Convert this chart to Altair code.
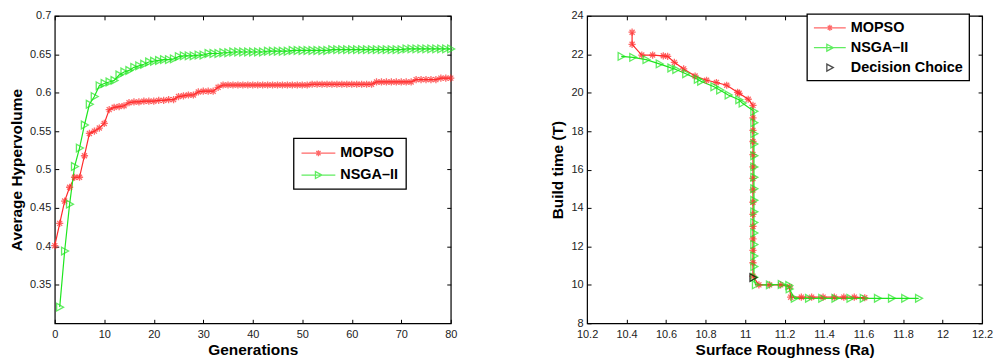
import altair as alt
import pandas as pd

FONT = "Liberation Sans"

# ---------------- left panel data ----------------
gen_mopso = list(range(0, 81))
hv_mopso = [0.401, 0.430, 0.459, 0.477, 0.490, 0.490, 0.518, 0.547, 0.550, 0.554,
            0.560, 0.578, 0.581, 0.582, 0.583, 0.587, 0.588, 0.588, 0.589, 0.589,
            0.589, 0.590, 0.590, 0.591, 0.591, 0.595, 0.596, 0.597, 0.597, 0.601,
            0.602, 0.602, 0.602, 0.607, 0.610, 0.610, 0.610, 0.610, 0.610, 0.610,
            0.610, 0.610, 0.610, 0.610, 0.610, 0.610, 0.610, 0.610, 0.610, 0.610,
            0.610, 0.610, 0.611, 0.611, 0.611, 0.611, 0.611, 0.611, 0.611, 0.611,
            0.611, 0.611, 0.611, 0.611, 0.611, 0.614, 0.614, 0.614, 0.614, 0.614,
            0.614, 0.614, 0.614, 0.617, 0.617, 0.617, 0.617, 0.617, 0.619, 0.619,
            0.619]
gen_nsga = list(range(1, 81))
hv_nsga = [0.321, 0.394, 0.455, 0.504, 0.528, 0.558, 0.585, 0.595, 0.609, 0.612,
           0.614, 0.616, 0.623, 0.627, 0.629, 0.633, 0.635, 0.637, 0.640, 0.641,
           0.642, 0.643, 0.643, 0.644, 0.647, 0.648, 0.648, 0.648, 0.649, 0.649,
           0.651, 0.651, 0.651, 0.652, 0.652, 0.653, 0.653, 0.653, 0.653, 0.653,
           0.653, 0.653, 0.654, 0.654, 0.654, 0.654, 0.654, 0.655, 0.655, 0.655,
           0.655, 0.655, 0.655, 0.655, 0.655, 0.656, 0.656, 0.656, 0.656, 0.656,
           0.656, 0.656, 0.656, 0.656, 0.656, 0.656, 0.656, 0.656, 0.656, 0.656,
           0.657, 0.657, 0.657, 0.657, 0.657, 0.657, 0.657, 0.657, 0.657, 0.657]

# ---------------- right panel data ----------------
ra_mopso = [10.428, 10.428, 10.477, 10.532, 10.586, 10.608, 10.642, 10.689, 10.747,
            10.805, 10.855, 10.907, 10.962, 10.970, 11.016, 11.040,
            11.040, 11.040, 11.040, 11.040, 11.040, 11.040, 11.040, 11.040, 11.040,
            11.040, 11.040, 11.040, 11.040, 11.040,
            11.070, 11.124, 11.180, 11.225, 11.231, 11.285, 11.337, 11.395, 11.452,
            11.500, 11.553, 11.606]
bt_mopso = [23.15, 22.52, 21.96, 21.96, 21.92, 21.89, 21.58, 21.24, 20.87,
            20.65, 20.53, 20.39, 20.02, 19.97, 19.66, 19.34,
            18.69, 18.04, 17.46, 16.78, 16.14, 15.54, 14.94, 14.30, 13.67,
            13.04, 12.39, 11.80, 11.15, 10.45,
            10.00, 10.00, 10.00, 9.90, 9.36, 9.36, 9.36, 9.36, 9.36,
            9.36, 9.36, 9.33]
ra_nsga = [10.373, 10.432, 10.499, 10.566, 10.625, 10.650, 10.700, 10.759, 10.776,
           10.843, 10.872, 10.915, 10.969, 10.986, 11.045,
           11.045, 11.045, 11.045, 11.045, 11.045, 11.045, 11.045, 11.045, 11.045,
           11.045, 11.045, 11.045, 11.045, 11.045, 11.045,
           11.053, 11.124, 11.184, 11.222, 11.224, 11.250, 11.322, 11.389, 11.456,
           11.532, 11.599, 11.671, 11.742, 11.809, 11.879]
bt_nsga = [21.89, 21.84, 21.72, 21.50, 21.29, 21.21, 20.99, 20.70, 20.60,
           20.31, 20.14, 19.88, 19.63, 19.46, 19.03,
           18.44, 17.87, 17.33, 16.72, 16.14, 15.60, 15.00, 14.40, 13.80,
           13.24, 12.70, 12.10, 11.50, 10.95, 10.40,
           10.00, 10.00, 10.02, 9.97, 9.79, 9.30, 9.30, 9.30, 9.30,
           9.30, 9.30, 9.30, 9.30, 9.30, 9.30]
ra_choice = [11.04]
bt_choice = [10.38]

NAME_M = "MOPSO"
NAME_N = "NSGA\u2013II"
NAME_D = "Decision Choice"
RED = "#ff2a2a"
GREEN = "#1fe61f"
BLACK = "#000000"

x_ticks_left = [0, 10, 20, 30, 40, 50, 60, 70, 80]
y_ticks_left = [0.35, 0.4, 0.45, 0.5, 0.55, 0.6, 0.65, 0.7]
x_ticks_right = [10.2, 10.4, 10.6, 10.8, 11.0, 11.2, 11.4, 11.6, 11.8, 12.0, 12.2]
y_ticks_right = [8, 10, 12, 14, 16, 18, 20, 22, 24]

STAR = "M-1,0L1,0M0,-1L0,1M-0.7,-0.7L0.7,0.7M-0.7,0.7L0.7,-0.7"
TRI = "M-0.8,-1L1,0L-0.8,1Z"
# legend symbols: a line sample with the marker at its middle (size 196 -> 7 px per unit)
LEG_STAR_L = "M-1,0L3.857,0M1.429,-0.43L1.429,0.43M1.125,-0.3L1.733,0.3M1.125,0.3L1.733,-0.3"
LEG_TRI_L = "M-1,0L3.857,0M1.0,-0.5L1.93,0L1.0,0.5Z"
LEG_STAR_R = "M-1,0L3.571,0M1.286,-0.43L1.286,0.43M0.982,-0.3L1.59,0.3M0.982,0.3L1.59,-0.3"
LEG_TRI_R = "M-1,0L3.571,0M0.857,-0.5L1.786,0L0.857,0.5Z"
LEG_TRI_ONLY_R = "M0.857,-0.5L1.786,0L0.857,0.5Z"


def frame(xs, ys, name):
    return pd.DataFrame({"x": xs, "y": ys, "series": name, "idx": list(range(len(xs)))})


def main_axis(orient, values, fmt, title, tpad):
    return alt.Axis(orient=orient, values=values, format=fmt, offset=-4, tickSize=4,
                    domain=False, grid=False, tickColor="black", tickWidth=1,
                    labelFont=FONT, labelFontSize=11, labelColor="#222222",
                    labelPadding=5 if orient == "bottom" else 4,
                    labelFlush=False, labelOverlap=False,
                    title=title, titleFont=FONT, titleFontSize=15.5,
                    titleFontWeight="bold", titleColor="black", titlePadding=tpad)


def side_axis(orient, values):
    return alt.Axis(orient=orient, values=values, offset=-4, tickSize=4, domain=False,
                    grid=False, labels=False, title=None, tickColor="black", tickWidth=1)


def panel(df, names, colors, shapes, leg_shapes, xdom, ydom, xt, yt, xfmt, yfmt,
          xtitle, ytitle, w, h, legx, legy, laboff, rowpad, pad):
    cscale = alt.Scale(domain=names, range=colors)
    xs = alt.Scale(domain=xdom, nice=False, zero=False)
    ys = alt.Scale(domain=ydom, nice=False, zero=False)
    base = alt.Chart(df)

    leg = base.transform_filter("false").mark_point(filled=False, strokeWidth=1.3).encode(
        x=alt.X("x:Q", scale=xs, axis=None),
        y=alt.Y("y:Q", scale=ys, axis=None),
        color=alt.Color("series:N", scale=cscale, legend=alt.Legend(
            orient="none", legendX=legx, legendY=legy, title=None,
            strokeColor="black", fillColor="white", padding=pad,
            labelFont=FONT, labelFontSize=14.5, labelFontWeight="bold", labelColor="black",
            labelOffset=laboff, symbolSize=196, symbolStrokeWidth=1.3,
            rowPadding=rowpad, labelLimit=300)),
        shape=alt.Shape("series:N", scale=alt.Scale(domain=names, range=leg_shapes),
                        legend=alt.Legend(orient="none", legendX=legx, legendY=legy,
                                          title=None)),
    )
    layers = [leg]

    line_names = [n for n in names if n != NAME_D]
    lines = base.transform_filter(
        alt.FieldOneOfPredicate(field="series", oneOf=line_names)
    ).mark_line(strokeWidth=1.2, clip=False).encode(
        x=alt.X("x:Q", scale=xs, axis=main_axis("bottom", xt, xfmt, xtitle, 3)),
        y=alt.Y("y:Q", scale=ys, axis=main_axis("left", yt, yfmt, ytitle, 5)),
        color=alt.Color("series:N", scale=cscale, legend=None),
        order="idx:Q",
    )
    layers.append(lines)
    for i, (n, shp) in enumerate(zip(names, shapes)):
        if i == 0:
            xa = side_axis("top", xt)
            ya = side_axis("right", yt)
        else:
            xa = None
            ya = None
        pts = base.transform_filter(alt.datum.series == n).mark_point(
            shape=shp, filled=False, size=52 if shp == STAR else 60,
            strokeWidth=1.3, clip=False
        ).encode(
            x=alt.X("x:Q", scale=xs, axis=xa),
            y=alt.Y("y:Q", scale=ys, axis=ya),
            color=alt.Color("series:N", scale=cscale, legend=None),
        )
        layers.append(pts)

    return alt.layer(*layers).resolve_axis(x="independent", y="independent").properties(
        width=w, height=h)


df_left = pd.concat([frame(gen_mopso, hv_mopso, NAME_M), frame(gen_nsga, hv_nsga, NAME_N)],
                    ignore_index=True)
df_right = pd.concat([frame(ra_mopso, bt_mopso, NAME_M), frame(ra_nsga, bt_nsga, NAME_N),
                      frame(ra_choice, bt_choice, NAME_D)], ignore_index=True)

left = panel(df_left, [NAME_M, NAME_N], [RED, GREEN], [STAR, TRI], [LEG_STAR_L, LEG_TRI_L],
             [0, 80], [0.3, 0.7], x_ticks_left, y_ticks_left, "d", ".2~f",
             "Generations", "Average Hypervolume", 398, 309, 240, 123, 24, 7, 7)
right = panel(df_right, [NAME_M, NAME_N, NAME_D], [RED, GREEN, BLACK], [STAR, TRI, TRI],
              [LEG_STAR_R, LEG_TRI_R, LEG_TRI_ONLY_R],
              [10.2, 12.2], [8, 24], x_ticks_right, y_ticks_right, ".1~f", "d",
              "Surface Roughness (Ra)", "Build time (T)", 397, 309, 221, -2, 22, 5, 6)

chart = alt.hconcat(left, right, spacing=92).resolve_scale(
    color="independent", shape="independent"
).resolve_legend(color="independent", shape="independent").properties(
    padding={"left": 0, "top": 0, "right": 0, "bottom": 0}
).configure_view(stroke="black", strokeWidth=1.2).configure_legend(strokeWidth=1.3)

chart.save("out.html", embed_options={"renderer": "svg", "actions": False})
